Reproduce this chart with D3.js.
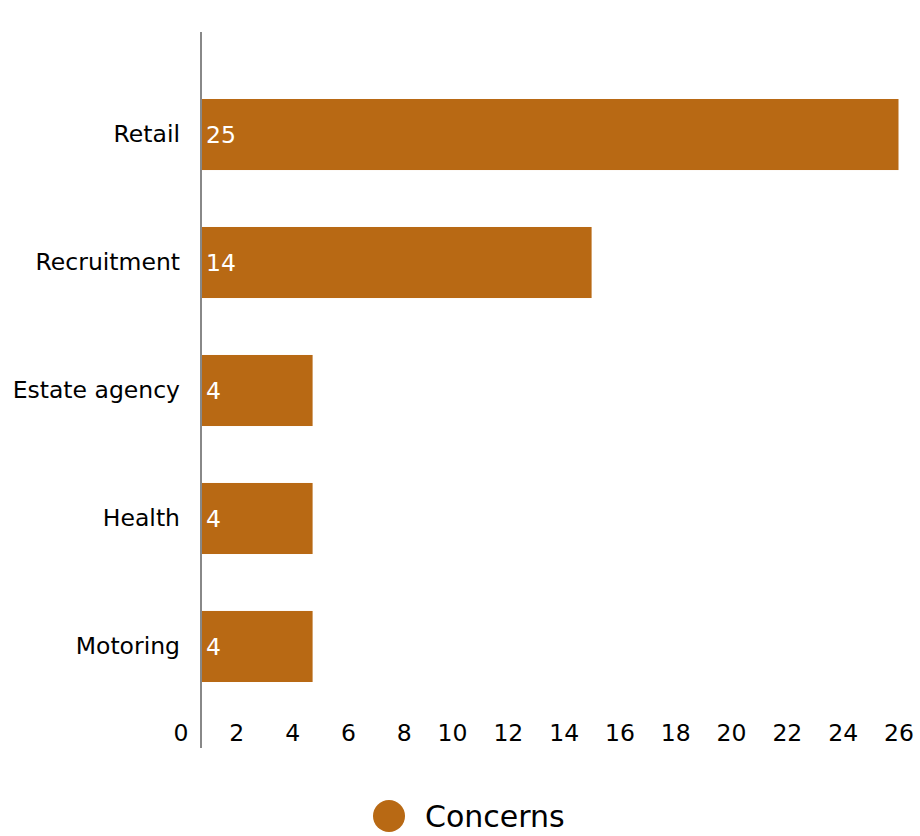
<!DOCTYPE html>
<html><head><meta charset="utf-8">
<script src="https://cdn.jsdelivr.net/npm/d3@7"></script>
<style>body{margin:0;background:#fff}svg{display:block;font-family:"DejaVu Sans",Verdana,sans-serif}</style>
</head><body>
<svg id="c" width="920" height="836"></svg>
<script>
const categories = ["Retail", "Recruitment", "Estate agency", "Health", "Motoring"];
const concerns = [25, 14, 4, 4, 4];
const tickValues = [0, 2, 4, 6, 8, 10, 12, 14, 16, 18, 20, 22, 24, 26];
const seriesName = "Concerns";
const color = "#b86914";

const svg = d3.select("#c");
const x = d3.scaleLinear().domain([0, 26]).range([201, 201 + 26 * 27.9]);
const y = d3.scaleBand().domain(categories).range([35, 746]).paddingInner(0.445).paddingOuter(0.5);

svg.selectAll("rect.bar").data(categories).join("rect").attr("class", "bar")
  .attr("x", x(0)).attr("y", d => y(d))
  .attr("width", (d, i) => x(concerns[i]) - x(0))
  .attr("height", y.bandwidth()).attr("fill", color);

svg.selectAll("text.val").data(categories).join("text").attr("class", "val")
  .attr("x", x(0) + 5).attr("y", d => y(d) + y.bandwidth() / 2)
  .attr("dy", "0.35em").attr("fill", "#fff").attr("font-size", 23.5)
  .text((d, i) => concerns[i]);

// category axis
const yAxis = d3.axisLeft(y).tickSize(0).tickPadding(21);
const ga = svg.append("g").attr("transform", `translate(${x(0)},0)`).call(yAxis);
ga.select(".domain").remove();
ga.selectAll("text").attr("font-size", 23.5).attr("fill", "#000").attr("font-family", "DejaVu Sans, Verdana, sans-serif");
svg.append("line").attr("x1", x(0)).attr("x2", x(0)).attr("y1", 32).attr("y2", 748)
  .attr("stroke", "#888").attr("stroke-width", 2);

// value axis
const xAxis = d3.axisBottom(x).tickValues(tickValues).tickSize(0).tickPadding(0);
const gx = svg.append("g").attr("transform", "translate(0,733)").call(xAxis);
gx.select(".domain").remove();
gx.selectAll("text").attr("font-size", 23.5).attr("fill", "#000")
  .attr("font-family", "DejaVu Sans, Verdana, sans-serif")
  .attr("text-anchor", "end").attr("dx", -13).attr("dy", "0.35em").attr("y", 0);

// legend
svg.append("circle").attr("cx", 389).attr("cy", 816).attr("r", 16).attr("fill", color);
svg.append("text").attr("x", 425).attr("y", 827).attr("font-size", 30).attr("fill", "#000").text(seriesName);
</script>
</body></html>
